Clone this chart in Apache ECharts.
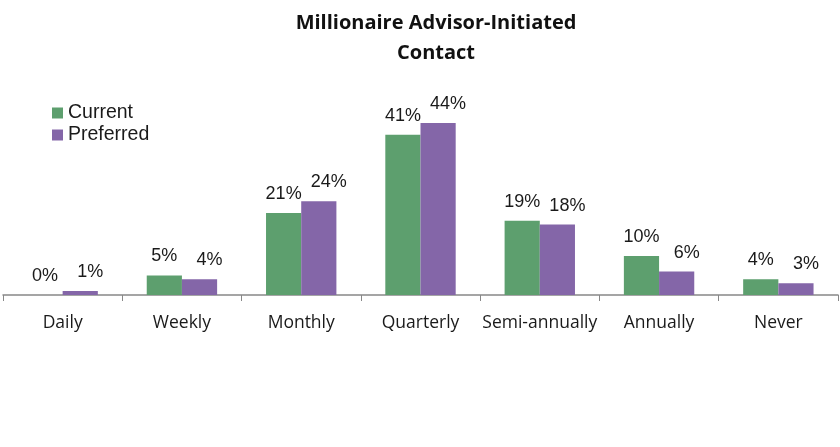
<!DOCTYPE html>
<html>
<head>
<meta charset="utf-8">
<script src="https://cdn.jsdelivr.net/npm/echarts@6/dist/echarts.min.js"></script>
<style>
html,body{margin:0;padding:0;background:#ffffff;}
#chart{width:840px;height:447px;}
</style>
</head>
<body>
<div id="chart"></div>
<script>
const categories = ['Daily', 'Weekly', 'Monthly', 'Quarterly', 'Semi-annually', 'Annually', 'Never'];
const currentValues = [0, 5, 21, 41, 19, 10, 4];
const preferredValues = [1, 4, 24, 44, 18, 6, 3];

const chart = echarts.init(document.getElementById('chart'));
const labelFont = { fontFamily: 'Liberation Sans', fontSize: 18, color: '#1a1a1a' };
chart.setOption({
  animation: false,
  backgroundColor: '#ffffff',
  title: {
    text: 'Millionaire Advisor-Initiated\nContact',
    left: 431,
    top: 3,
    textAlign: 'center',
    textStyle: { fontFamily: 'Open Sans', fontWeight: 'bold', fontSize: 20, lineHeight: 30, color: '#111' }
  },
  legend: {
    orient: 'vertical',
    left: 47,
    top: 97,
    itemWidth: 11,
    itemHeight: 11,
    itemGap: 0,
    icon: 'rect',
    textStyle: { fontFamily: 'Liberation Sans', fontSize: 19.5, lineHeight: 22, color: '#1a1a1a' },
    data: ['Current', 'Preferred']
  },
  grid: { left: 3, right: 2, top: 99.5, bottom: 447 - 295, containLabel: false },
  xAxis: {
    type: 'category',
    data: categories,
    axisLine: { lineStyle: { color: '#888', width: 1.5 } },
    axisTick: { show: true, length: 6, lineStyle: { color: '#888' } },
    axisLabel: { fontFamily: 'Open Sans', fontSize: 17.5, color: '#1a1a1a', margin: 19, interval: 0 }
  },
  yAxis: {
    type: 'value',
    min: 0,
    max: 50,
    show: false,
    splitLine: { show: false }
  },
  series: [
    {
      name: 'Current',
      type: 'bar',
      data: currentValues,
      barGap: '0%',
      barCategoryGap: '41%',
      itemStyle: { color: '#5d9f6e' },
      label: { show: true, position: 'top', distance: 10, formatter: '{c}%', ...labelFont }
    },
    {
      name: 'Preferred',
      type: 'bar',
      data: preferredValues,
      itemStyle: { color: '#8466a8' },
      label: { show: true, position: 'top', distance: 10, offset: [10, 0], formatter: '{c}%', ...labelFont }
    }
  ]
});
</script>
</body>
</html>
